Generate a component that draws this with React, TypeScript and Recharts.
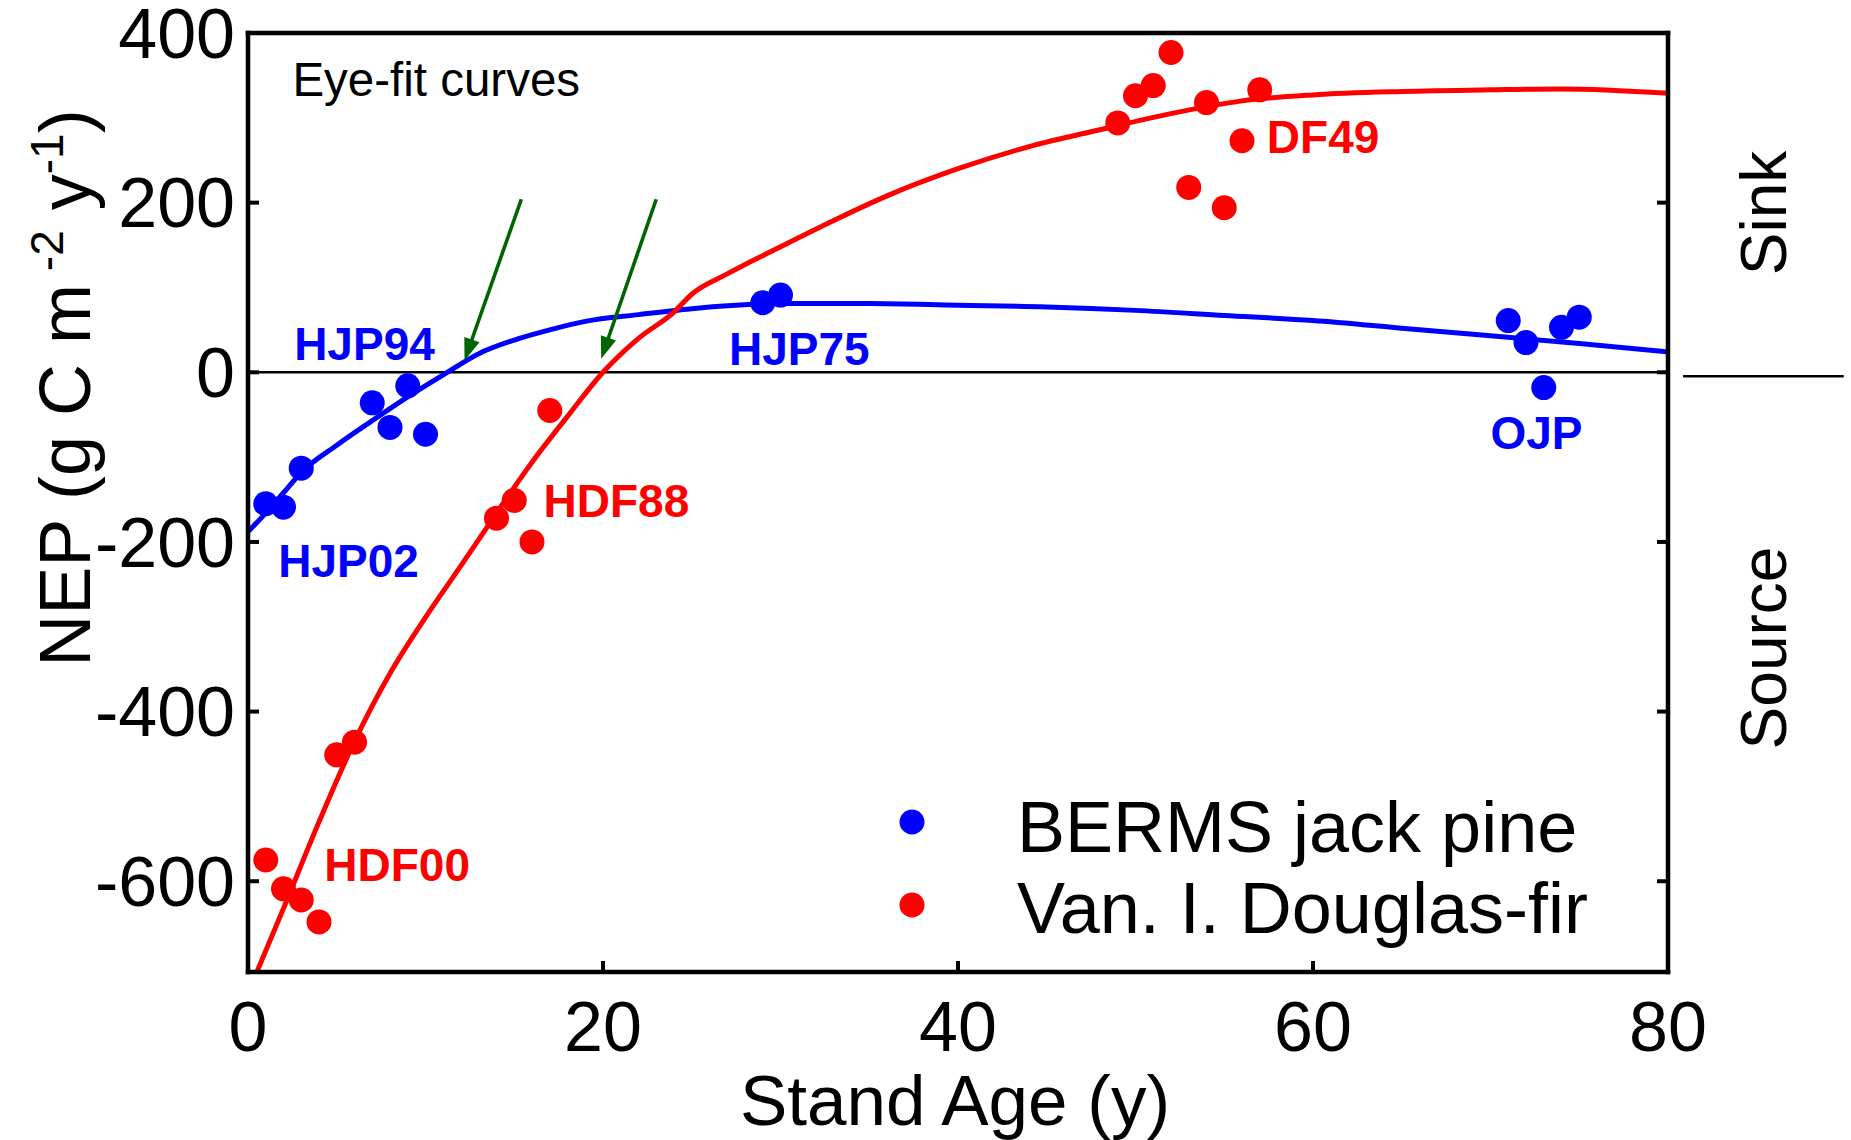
import React from 'react';
import {
  ComposedChart,
  Line,
  Scatter,
  XAxis,
  YAxis,
  ReferenceLine,
  ReferenceDot,
  Legend,
  Label,
} from 'recharts';

const FONT = '"Liberation Sans", Arial, Helvetica, sans-serif';
const BLUE = '#0000ff';
const RED = '#ff0000';
const GREEN = '#006400';

// ---- data ----
const seriesNames = ['BERMS jack pine', 'Van. I. Douglas-fir'];

const blueAges = [1, 2, 3, 7, 8, 9, 10, 29, 30, 71, 72, 73, 74, 75];
const blueNEP = [-155, -159, -113, -36, -65, -16, -73, 82, 91, 61, 35, -18, 53, 65];

const redAges = [1, 2, 3, 4, 5, 6, 14, 15, 16, 17, 49, 50, 51, 52, 53, 54, 55, 56, 57];
const redNEP = [-575, -609, -622, -648, -451, -436, -172, -151, -200, -45, 294, 326, 338, 377, 218, 318, 194, 273, 333];

const blueCurveAges = [0, 1, 2, 3, 5, 7, 9, 11, 13, 15, 17, 19, 22, 25, 30, 35, 40, 45, 50, 55, 60, 65, 70, 75, 80];
const blueCurveNEP = [-188, -166, -142, -118, -86, -57, -29, -3, 22, 38, 50, 60, 68, 75, 81, 81, 79, 77, 73, 67, 61, 52, 43, 34, 24];

const redCurveAges = [0, 2, 4, 6, 8, 10, 12, 14, 16, 18, 20, 22, 24, 25, 27, 30, 33, 36, 40, 44, 48, 52, 56, 60, 65, 70, 74, 80];
const redCurveNEP = [-732, -632, -530, -435, -355, -289, -228, -166, -106, -52, 0, 40, 71, 92, 116, 148, 179, 208, 240, 266, 286, 305, 320, 327, 331, 333, 334, 329];

const xTicks = [0, 20, 40, 60, 80];
const yTicks = [400, 200, 0, -200, -400, -600];
const xDomain = [0, 80];
const yDomain = [-707, 400];

// site labels: text, anchor age, anchor NEP (left/baseline), colour
const siteLabels = [
  { text: 'HJP94', age: 2.6, nep: 14, color: BLUE },
  { text: 'HJP02', age: 1.7, nep: -241, color: BLUE },
  { text: 'HJP75', age: 27.1, nep: 9, color: BLUE },
  { text: 'OJP', age: 70, nep: -90, color: BLUE },
  { text: 'HDF88', age: 16.65, nep: -171, color: RED },
  { text: 'HDF00', age: 4.3, nep: -600, color: RED },
  { text: 'DF49', age: 57.4, nep: 258, color: RED },
];

// green arrows: start -> end (age, NEP)
const arrows = [
  { from: { x: 15.4, y: 204 }, to: { x: 12.2, y: 14 } },
  { from: { x: 23.0, y: 204 }, to: { x: 19.9, y: 16 } },
];

const toPts = (ages: number[], vals: number[]) => ages.map((a, i) => ({ age: a, nep: vals[i] }));
const bluePoints = toPts(blueAges, blueNEP);
const redPoints = toPts(redAges, redNEP);
const blueCurve = toPts(blueCurveAges, blueCurveNEP);
const redCurve = toPts(redCurveAges, redCurveNEP);

const dotShape = (color: string) => (p: any) => (
  <circle cx={p.cx} cy={p.cy} r={12.5} fill={color} stroke="none" />
);

const arrowShape = (p: any) => {
  const { x1, y1, x2, y2 } = p;
  const dx = x2 - x1;
  const dy = y2 - y1;
  const len = Math.hypot(dx, dy) || 1;
  const ux = dx / len;
  const uy = dy / len;
  const headL = 22;
  const headW = 8;
  const bx = x2 - ux * headL;
  const by = y2 - uy * headL;
  const px = -uy;
  const py = ux;
  return (
    <g>
      <line x1={x1} y1={y1} x2={bx + ux * 3} y2={by + uy * 3} stroke={GREEN} strokeWidth={3.6} />
      <polygon
        points={`${x2},${y2} ${bx + px * headW},${by + py * headW} ${bx - px * headW},${by - py * headW}`}
        fill={GREEN}
      />
    </g>
  );
};

const textShape = (text: string, color: string, weight: string | number, size: number) => (p: any) => (
  <text x={p.cx} y={p.cy} fill={color} fontWeight={weight} fontSize={size} fontFamily={FONT}>
    {text}
  </text>
);

const EmptyTick = () => <g />;

const YTitle = () => (
  <text
    transform="rotate(-90, 90, 388)"
    x={90}
    y={388}
    textAnchor="middle"
    fontSize={72}
    fontFamily={FONT}
    fill="#000"
  >
    NEP (g C m
    <tspan fontSize={46} dy={-27}> -2</tspan>
    <tspan fontSize={72} dy={27}> y</tspan>
    <tspan fontSize={46} dy={-27}>-1</tspan>
    <tspan fontSize={72} dy={27}>)</tspan>
  </text>
);

const XTitle = () => (
  <text x={955} y={1125} textAnchor="middle" fontSize={71} fontFamily={FONT} fill="#000">
    Stand Age (y)
  </text>
);

const SideTitles = () => (
  <g fontFamily={FONT} fontSize={64} fill="#000">
    <text transform="rotate(-90, 1786, 213)" x={1786} y={213} textAnchor="middle">
      Sink
    </text>
    <text transform="rotate(-90, 1786, 648)" x={1786} y={648} textAnchor="middle">
      Source
    </text>
  </g>
);

const renderLegend = (props: any) => {
  const payload = (props && props.payload) || [];
  const items = seriesNames.map((name, i) => {
    const found = payload.find((e: any) => e && e.value === name);
    return { name, color: (found && found.color) || (i === 0 ? BLUE : RED) };
  });
  return (
    <svg width={720} height={190} style={{ display: 'block' }}>
      {items.map((it, i) => (
        <g key={it.name}>
          <circle cx={32} cy={52 + i * 83} r={12.5} fill={it.color} />
          <text x={137} y={82 + i * 81} fontSize={72} fontFamily={FONT} fill="#000">
            {it.name}
          </text>
        </g>
      ))}
    </svg>
  );
};

const axisLine = { stroke: '#000', strokeWidth: 4.5, strokeLinecap: 'square' as const };
const tickLine = { stroke: '#000', strokeWidth: 4 };
const tickStyle = { fontSize: 70, fill: '#000', fontFamily: FONT };

export default function App() {
  return (
    <div style={{ position: 'absolute', left: 0, top: 0, width: 1851, height: 1140, background: '#fff' }}>
      <ComposedChart
        width={1851}
        height={1140}
        margin={{ top: 32, right: 182, bottom: 0, left: 0 }}
        style={{ fontFamily: FONT }}
      >
        <XAxis
          dataKey="age"
          type="number"
          domain={xDomain}
          ticks={xTicks}
          interval={0}
          allowDataOverflow
          height={168}
          tickSize={-11}
          tickMargin={40}
          axisLine={axisLine}
          tickLine={tickLine}
          tick={tickStyle}
        >
          <Label content={<XTitle />} />
        </XAxis>
        <XAxis
          xAxisId="top"
          orientation="top"
          type="number"
          domain={xDomain}
          ticks={xTicks}
          interval={0}
          allowDataOverflow
          height={1}
          tickSize={-11}
          tick={EmptyTick}
          axisLine={axisLine}
          tickLine={tickLine}
        />
        <YAxis
          dataKey="nep"
          type="number"
          domain={yDomain}
          ticks={yTicks}
          interval={0}
          allowDataOverflow
          width={248}
          tickSize={-11}
          tickMargin={24}
          axisLine={axisLine}
          tickLine={tickLine}
          tick={tickStyle}
        >
          <Label content={<YTitle />} />
        </YAxis>
        <YAxis
          yAxisId="right"
          orientation="right"
          type="number"
          domain={yDomain}
          ticks={yTicks}
          interval={0}
          allowDataOverflow
          width={1}
          tickSize={-11}
          tick={EmptyTick}
          axisLine={axisLine}
          tickLine={tickLine}
        >
          <Label content={<SideTitles />} />
        </YAxis>

        <ReferenceLine y={0} stroke="#000" strokeWidth={2.5} />
        <ReferenceLine
          segment={[{ x: 80.85, y: -4.7 }, { x: 89.9, y: -4.7 }]}
          ifOverflow="visible"
          stroke="#000"
          strokeWidth={2.5}
        />

        <Line
          data={blueCurve}
          dataKey="nep"
          type="monotone"
          stroke={BLUE}
          strokeWidth={5}
          dot={false}
          activeDot={false}
          legendType="none"
          isAnimationActive={false}
        />
        <Line
          data={redCurve}
          dataKey="nep"
          type="monotone"
          stroke={RED}
          strokeWidth={5}
          dot={false}
          activeDot={false}
          legendType="none"
          isAnimationActive={false}
        />
        <Scatter
          name={seriesNames[0]}
          data={bluePoints}
          fill={BLUE}
          shape={dotShape(BLUE)}
          isAnimationActive={false}
        />
        <Scatter
          name={seriesNames[1]}
          data={redPoints}
          fill={RED}
          shape={dotShape(RED)}
          isAnimationActive={false}
        />

        {arrows.map((a, i) => (
          <ReferenceLine key={'arr' + i} segment={[a.from, a.to]} ifOverflow="visible" shape={arrowShape} />
        ))}

        {siteLabels.map((l) => (
          <ReferenceDot
            key={l.text}
            x={l.age}
            y={l.nep}
            r={0}
            ifOverflow="visible"
            shape={textShape(l.text, l.color, 'bold', 46)}
          />
        ))}
        <ReferenceDot
          x={2.5}
          y={326}
          r={0}
          ifOverflow="visible"
          shape={textShape('Eye-fit curves', '#000', 'normal', 47.5)}
        />

        <Legend
          layout="vertical"
          align="center"
          verticalAlign="middle"
          wrapperStyle={{ left: 880, top: 770, width: 720, height: 190 }}
          content={renderLegend}
        />
      </ComposedChart>
    </div>
  );
}
